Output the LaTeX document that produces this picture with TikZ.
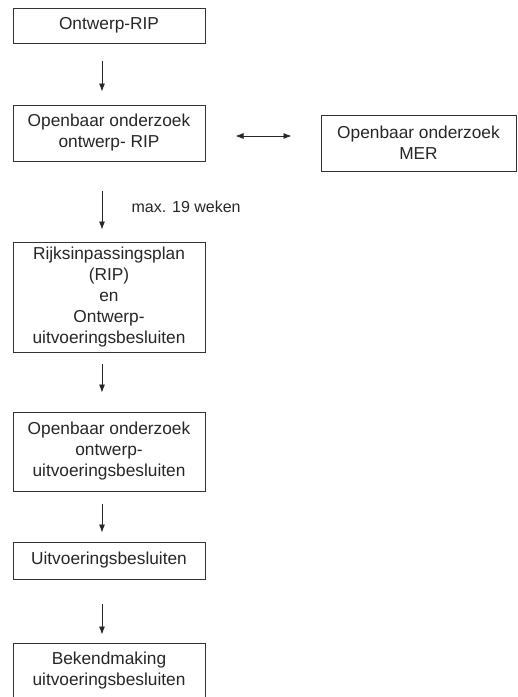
\documentclass[tikz,border=0pt]{standalone}
\usepackage{fontspec}
\setmainfont{Liberation Sans}
\usetikzlibrary{arrows.meta}

\tikzset{
  etape/.style={draw=black!80, line width=1pt, minimum width=192pt, inner sep=0pt,
    align=center, text=black!85, font=\fontsize{17.3}{21}\selectfont},
  fleche/.style={-{Latex[length=8pt,width=6pt]}, line width=0.8pt, black!85},
  dubbel/.style={{Latex[length=8pt,width=6pt]}-{Latex[length=8pt,width=6pt]}, line width=0.8pt, black!85},
}

\begin{document}
\begin{tikzpicture}[x=1pt, y=-1pt]
% Cadre de la page
\clip (0,0) rectangle (518,697);

% Colonne principale des etapes
\node[etape, minimum height=35pt] (ontwerp) at (109,25.5) {Ontwerp-RIP};
\node[etape, minimum height=56pt] (onderzoek) at (109,133) {Openbaar onderzoek\\ontwerp- RIP};
\node[etape, minimum height=110pt] (rip) at (109,297) {Rijksinpassingsplan\\(RIP)\\en\\Ontwerp-\\uitvoeringsbesluiten};
\node[etape, minimum height=79pt] (onderzoekuit) at (109,451.5) {Openbaar onderzoek\\ontwerp-\\uitvoeringsbesluiten};
\node[etape, minimum height=37pt] (besluiten) at (109,560.5) {Uitvoeringsbesluiten};
\node[etape, minimum height=56pt] (bekend) at (109,671) {Bekendmaking\\uitvoeringsbesluiten};

% Etape parallele a droite
\node[etape, minimum width=195pt, minimum height=56pt] (mer) at (418.5,143) {Openbaar onderzoek\\MER};

% Fleches verticales (sans contact avec les cadres)
\draw[fleche, shorten <=17pt, shorten >=13pt] ([xshift=-7pt]ontwerp.south) -- ([xshift=-7pt]onderzoek.north);
\draw[fleche, shorten <=29pt, shorten >=12pt] ([xshift=-7pt]onderzoek.south) -- ([xshift=-7pt]rip.north);
\draw[fleche, shorten <=11pt, shorten >=19pt] ([xshift=-7pt]rip.south) -- ([xshift=-7pt]onderzoekuit.north);
\draw[fleche, shorten <=12pt, shorten >=9pt] ([xshift=-7pt]onderzoekuit.south) -- ([xshift=-7pt]besluiten.north);
\draw[fleche, shorten <=24pt, shorten >=8pt] ([xshift=-7pt]besluiten.south) -- ([xshift=-7pt]bekend.north);

% Delai
\node[anchor=west, text=black!85, font=\fontsize{16}{18}\selectfont] (termijn) at (128,207) {max. 19 weken};

% Liaison avec MER
\draw[dubbel, shorten <=30pt, shorten >=29pt] ([yshift=-3pt]onderzoek.east) -- ([yshift=-3pt]onderzoek.east -| mer.west);
\end{tikzpicture}
\end{document}
